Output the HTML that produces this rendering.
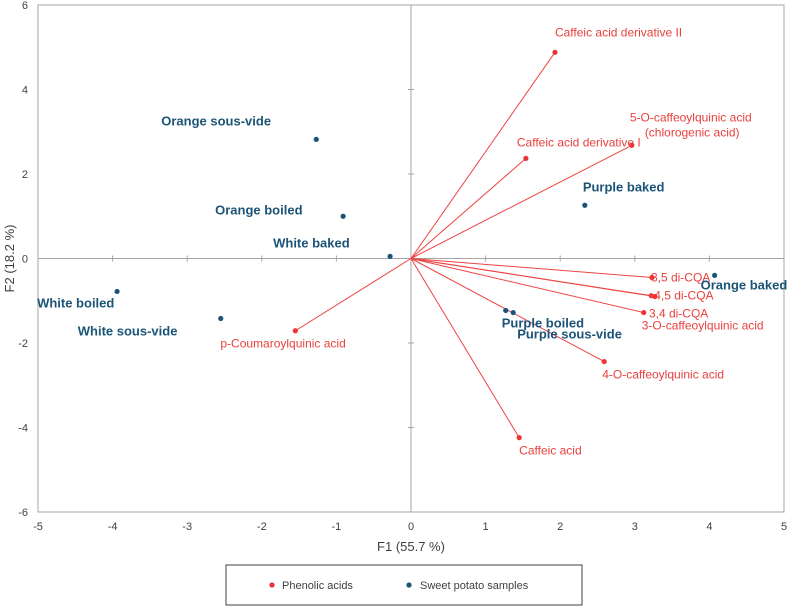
<!DOCTYPE html>
<html><head><meta charset="utf-8"><style>
body{margin:0;background:#fff;width:789px;height:609px;overflow:hidden;font-family:"Liberation Sans",sans-serif}
</style></head><body>
<svg id="chart" width="789" height="609" xmlns="http://www.w3.org/2000/svg"></svg>
<script>
const acidNames=["Caffeic acid derivative II","5-O-caffeoylquinic acid","Caffeic acid derivative I","3,5 di-CQA","4,5 di-CQA","3,4 di-CQA","3-O-caffeoylquinic acid","4-O-caffeoylquinic acid","Caffeic acid","p-Coumaroylquinic acid"];
const acidX=[1.93,2.96,1.54,3.23,3.22,3.27,3.12,2.59,1.45,-1.55];
const acidY=[4.88,2.68,2.37,-0.45,-0.88,-0.90,-1.28,-2.44,-4.24,-1.71];
const sampleNames=["Orange sous-vide","Orange boiled","White baked","White boiled","White sous-vide","Purple boiled","Purple sous-vide","Purple baked","Orange baked"];
const sampleX=[-1.27,-0.91,-0.28,-3.94,-2.55,1.27,1.37,2.33,4.07];
const sampleY=[2.82,1.0,0.05,-0.78,-1.42,-1.23,-1.28,1.26,-0.40];
const xTicks=[-5,-4,-3,-2,-1,0,1,2,3,4,5];
const yTicks=[-6,-4,-2,0,2,4,6];
const acidLab=[[0,-16,"start"],[-2,-24,"start"],[-9,-12,"start"],[-1,4,"start"],[3,4,"start"],[-6,21,"start"],[-2,17,"start"],[-2,17,"start"],[0,17,"start"],[-75,17,"start"]];
const sampLab=[[-155,-14,"start"],[-128,-2,"start"],[-117,-9,"start"],[-80,16,"start"],[-143,17,"start"],[-4,17,"start"],[4,26,"start"],[-2,-14,"start"],[-14,14,"start"]];
const L=38,R=784,T=5,B=512;
const sx=v=>L+(v+5)/10*(R-L), sy=v=>B-(v+6)/12*(B-T);
const svg=document.getElementById('chart');const NS="http://www.w3.org/2000/svg";
function mk(tag,at,txt){const e=document.createElementNS(NS,tag);for(const k in at)e.setAttribute(k,at[k]);if(txt!=null)e.textContent=txt;svg.appendChild(e);return e;}
let e=mk('rect',{x:L,y:T,width:R-L,height:B-T,fill:'none',stroke:'#a6a6a6'});

e=mk('line',{x1:sx(0),x2:sx(0),y1:T,y2:B,stroke:'#a6a6a6'});

e=mk('line',{x1:L,x2:R,y1:sy(0),y2:sy(0),stroke:'#a6a6a6'});

xTicks.forEach(t=>{e=mk('text',{x:sx(t),y:530,'font-size':11,'text-anchor':'middle',fill:'#404040'},t);

e=mk('line',{x1:sx(t),x2:sx(t),y1:sy(0)-3,y2:sy(0)+3,stroke:'#a6a6a6'});
});
yTicks.forEach(t=>{e=mk('text',{x:28,y:sy(t)+4,'font-size':11,'text-anchor':'end',fill:'#404040'},t);

e=mk('line',{x1:sx(0)-3,x2:sx(0)+3,y1:sy(t),y2:sy(t),stroke:'#a6a6a6'});
});
e=mk('text',{x:sx(0),y:551,'font-size':13,'text-anchor':'middle',fill:'#404040'},'F1 (55.7 %)');

e=mk('text',{x:14,y:sy(0),'font-size':13,'text-anchor':'middle',fill:'#404040',transform:`rotate(-90 14 ${sy(0)})`},'F2 (18.2 %)');

acidX.forEach((v,i)=>{
e=mk('line',{x1:sx(0),y1:sy(0),x2:sx(v),y2:sy(acidY[i]),stroke:'#ee4444','stroke-width':1});

e=mk('circle',{cx:sx(v),cy:sy(acidY[i]),r:2.6,fill:'#ee3333'});

const o=acidLab[i];
e=mk('text',{x:sx(v)+o[0],y:sy(acidY[i])+o[1],'font-size':12,fill:'#e8403d','text-anchor':o[2]},acidNames[i]);

if(i==1){e=mk('text',{x:sx(v)+o[0]+15,y:sy(acidY[i])+o[1]+15,'font-size':12,fill:'#e8403d'},'(chlorogenic acid)');
}
});
sampleX.forEach((v,i)=>{
e=mk('circle',{cx:sx(v),cy:sy(sampleY[i]),r:2.6,fill:'#1b5477'});

const o=sampLab[i];
e=mk('text',{x:sx(v)+o[0],y:sy(sampleY[i])+o[1],'font-size':13,'font-weight':'bold',fill:'#1b5477','text-anchor':o[2]},sampleNames[i]);

});
e=mk('rect',{x:226,y:565,width:356,height:40,fill:'#fff',stroke:'#404040'});

e=mk('circle',{cx:272,cy:585,r:2.6,fill:'#ee3333'});

e=mk('text',{x:282,y:589,'font-size':11,fill:'#404040'},'Phenolic acids');

e=mk('circle',{cx:409,cy:585,r:2.6,fill:'#1b5477'});

e=mk('text',{x:420,y:589,'font-size':11,fill:'#404040'},'Sweet potato samples');

</script>
</body></html>
